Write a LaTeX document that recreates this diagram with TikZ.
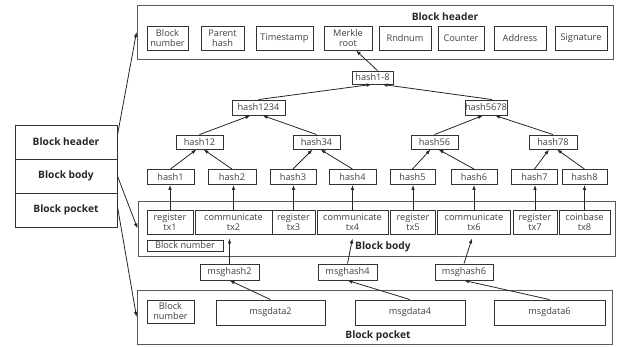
\documentclass[tikz,border=0pt]{standalone}
\usepackage{fontspec}
\setmainfont{Open Sans}
\usetikzlibrary{arrows.meta,calc}
\begin{document}
\begin{tikzpicture}[x=1pt,y=-1pt,
  bx/.style={draw=black!80, line width=0.9pt, inner sep=0pt, align=center, text=black!75, font=\fontsize{9.2}{10}\selectfont},
  outer/.style={draw=black!65, line width=0.9pt, inner sep=0pt},
  tbl/.style={draw=black!80, line width=0.9pt, inner sep=0pt, minimum width=102pt, minimum height=34pt, font=\bfseries\fontsize{10.2}{12}\selectfont, text=black!85},
  lbl/.style={font=\bfseries\fontsize{10.2}{12}\selectfont, text=black!85, inner sep=0pt},
  arr/.style={draw=black!85, line width=0.8pt, -{Latex[length=5pt,width=3.6pt]}}
]
\useasboundingbox (0,0) rectangle (621,346);

% outer boxes
\node[outer, minimum width=476pt, minimum height=54pt] (hdr) at (375,32) {};
\node[outer, minimum width=477pt, minimum height=55pt] (body) at (376.5,228.5) {};
\node[outer, minimum width=475pt, minimum height=54pt] (pocket) at (374.5,317) {};
\node[lbl] (thdr) at (445,17) {Block header};
\node[lbl] (tbody) at (383,247) {Block body};
\node[lbl] (tpocket) at (378,336) {Block pocket};

% left table
\node[tbl] (lh) at (66,142) {Block header};
\node[tbl] (lb) at (66,176) {Block body};
\node[tbl] (lp) at (66,210) {Block pocket};

% header fields
\node[bx, minimum width=41pt, minimum height=24pt] (bn1) at (167.5,38) {Block\\number};
\node[bx, minimum width=43pt, minimum height=24pt] (ph) at (222.5,38) {Parent\\hash};
\node[bx, minimum width=57pt, minimum height=24pt] (ts) at (284.5,38) {Timestamp};
\node[bx, minimum width=48pt, minimum height=24pt] (mr) at (348,38) {Merkle\\root};
\node[bx, minimum width=52pt, minimum height=24pt] (rn) at (405,38) {Rndnum};
\node[bx, minimum width=46pt, minimum height=24pt] (ct) at (461,38) {Counter};
\node[bx, minimum width=52pt, minimum height=24pt] (ad) at (520,38) {Address};
\node[bx, minimum width=52pt, minimum height=24pt] (sg) at (581,38) {Signature};

% merkle tree
\node[bx, minimum width=41pt, minimum height=13pt] (h18) at (372.5,77.5) {hash1-8};
\node[bx, minimum width=53pt, minimum height=15pt] (h1234) at (258.5,107.5) {hash1234};
\node[bx, minimum width=42pt, minimum height=15pt] (h5678) at (486,107.5) {hash5678};
\node[bx, minimum width=47pt, minimum height=14pt] (h12) at (199.5,142) {hash12};
\node[bx, minimum width=47pt, minimum height=14pt] (h34) at (316.5,142) {hash34};
\node[bx, minimum width=47pt, minimum height=14pt] (h56) at (434.5,142) {hash56};
\node[bx, minimum width=48pt, minimum height=14pt] (h78) at (553,142) {hash78};
\node[bx, minimum width=47pt, minimum height=15pt] (h1) at (170.5,177) {hash1};
\node[bx, minimum width=48pt, minimum height=15pt] (h2) at (232,177) {hash2};
\node[bx, minimum width=46pt, minimum height=15pt] (h3) at (293,177) {hash3};
\node[bx, minimum width=47pt, minimum height=15pt] (h4) at (352.5,177) {hash4};
\node[bx, minimum width=45pt, minimum height=15pt] (h5) at (412.5,177) {hash5};
\node[bx, minimum width=46pt, minimum height=15pt] (h6) at (474,177) {hash6};
\node[bx, minimum width=46pt, minimum height=15pt] (h7) at (534.5,177) {hash7};
\node[bx, minimum width=45pt, minimum height=15pt] (h8) at (584.5,177) {hash8};

% transactions
\node[bx, minimum width=46pt, minimum height=24pt] (tx1) at (170,222) {register\\tx1};
\node[bx, minimum width=77pt, minimum height=24pt] (tx2) at (233.5,222) {communicate\\tx2};
\node[bx, minimum width=43pt, minimum height=24pt] (tx3) at (293.5,222) {register\\tx3};
\node[bx, minimum width=71pt, minimum height=24pt] (tx4) at (352.5,222) {communicate\\tx4};
\node[bx, minimum width=45pt, minimum height=24pt] (tx5) at (413,222) {register\\tx5};
\node[bx, minimum width=73pt, minimum height=24pt] (tx6) at (474,222) {communicate\\tx6};
\node[bx, minimum width=44pt, minimum height=24pt] (tx7) at (535,222) {register\\tx7};
\node[bx, minimum width=51pt, minimum height=24pt] (tx8) at (584.5,222) {coinbase\\tx8};
\node[bx, minimum width=76pt, minimum height=11pt] (bn2) at (185,245.5) {Block number};

% message hashes
\node[bx, minimum width=59pt, minimum height=16pt] (mh2) at (229.5,272) {msghash2};
\node[bx, minimum width=59pt, minimum height=16pt] (mh4) at (347.5,272) {msghash4};
\node[bx, minimum width=58pt, minimum height=16pt] (mh6) at (464,272) {msghash6};

% pocket contents
\node[bx, minimum width=47pt, minimum height=23pt] (bn3) at (170.5,311.5) {Block\\number};
\node[bx, minimum width=109pt, minimum height=25pt] (md2) at (270.5,312.5) {msgdata2};
\node[bx, minimum width=110pt, minimum height=25pt] (md4) at (410,312.5) {msgdata4};
\node[bx, minimum width=111pt, minimum height=25pt] (md6) at (549.5,312.5) {msgdata6};

% left arrows
\draw[arr] ($(lh.north east)!0.3!(lh.south east)$) -- (hdr.west);
\draw[arr] (lb.east) -- (body.west);
\draw[arr] ($(lp.north east)!0.4!(lp.south east)$) -- (pocket.west);

% tree arrows
\draw[arr] ($(h18.north)+(5,0)$) -- ($(mr.south)+(8,0)$);
\draw[arr] (h1234.north) -- ($(h18.south)+(-1,0)$);
\draw[arr] ($(h5678.north)+(6,0)$) -- ($(h18.south)+(10,0)$);
\draw[arr] (h12.north) -- ($(h1234.south)+(-8,0)$);
\draw[arr] (h34.north) -- ($(h1234.south)+(4,0)$);
\draw[arr] (h56.north) -- ($(h5678.south)+(-3,0)$);
\draw[arr] (h78.north) -- ($(h5678.south)+(9,0)$);
\draw[arr] (h1.north) -- ($(h12.south)+(-3,0)$);
\draw[arr] (h2.north) -- ($(h12.south)+(4,0)$);
\draw[arr] (h3.north) -- ($(h34.south)+(-4,0)$);
\draw[arr] (h4.north) -- ($(h34.south)+(4,0)$);
\draw[arr] (h5.north) -- ($(h56.south)+(-4,0)$);
\draw[arr] (h6.north) -- ($(h56.south)+(4,0)$);
\draw[arr] (h7.north) -- ($(h78.south)+(-4,0)$);
\draw[arr] (h8.north) -- ($(h78.south)+(4,0)$);

% tx to hash
\foreach \i in {1,...,8} {
  \draw[arr] (tx\i.north |- tx\i.north) -- (tx\i.north |- h\i.south);
}

% msghash to tx
\draw[arr] (mh2.north) -- ($(mh2.north |- tx2.south)+(0,4)$);
\draw[arr] (mh4.north) -- ($(tx4.south)+(0,4)$);
\draw[arr] (mh6.north) -- ($(tx6.south)+(-2,4)$);

% msgdata to msghash
\draw[arr] (md2.north) -- (mh2.south);
\draw[arr] (md4.north) -- (mh4.south);
\draw[arr] (md6.north) -- (mh6.south);
\end{tikzpicture}
\end{document}
